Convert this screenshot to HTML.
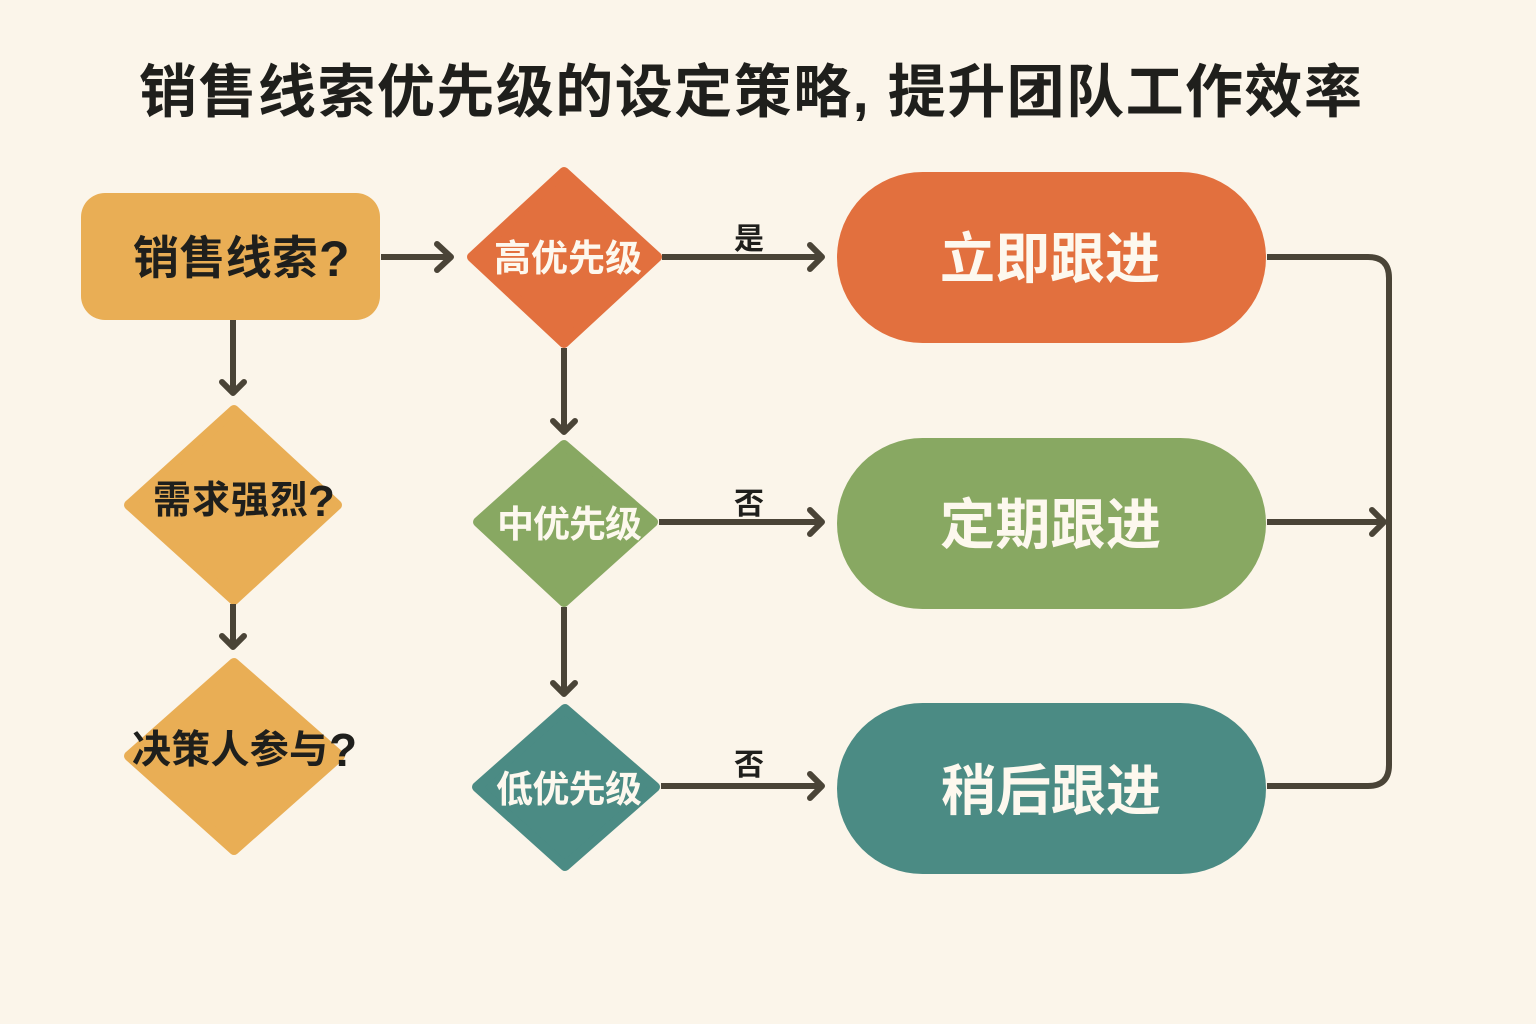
<!DOCTYPE html>
<html lang="zh"><head><meta charset="utf-8"><title>销售线索优先级的设定策略</title>
<style>html,body{margin:0;padding:0;background:#fbf5ea}svg{display:block}text{font-family:"Liberation Sans","Noto Sans CJK SC",sans-serif;font-weight:700}</style></head>
<body>
<svg width="1536" height="1024" viewBox="0 0 1536 1024" xmlns="http://www.w3.org/2000/svg">
<rect width="1536" height="1024" fill="#fbf5ea"/>
<text x="139" y="112" font-size="58" fill="#1f1f1c" textLength="1223" lengthAdjust="spacing">销售线索优先级的设定策略, 提升团队工作效率</text>

<g stroke-linejoin="round" stroke-width="10">
<rect x="81" y="193" width="299" height="127" rx="24" fill="#e9ae55"/>
<polygon points="234,410 337,505 234,600 129,505" fill="#e9ae55" stroke="#e9ae55"/>
<polygon points="234,663 340,756 234,850 129,756" fill="#e9ae55" stroke="#e9ae55"/>
<polygon points="564,172 657,257 564,343 472,257" fill="#e2703e" stroke="#e2703e"/>
<polygon points="564,445 653,522 564,602 478,522" fill="#88a862" stroke="#88a862"/>
<polygon points="565,709 655,787 565,866 477,787" fill="#4b8b84" stroke="#4b8b84"/>
</g>
<rect x="837" y="172" width="429" height="171" rx="85.5" fill="#e2703e"/>
<rect x="837" y="438" width="429" height="171" rx="85.5" fill="#88a862"/>
<rect x="837" y="703" width="429" height="171" rx="85.5" fill="#4b8b84"/>

<g fill="none" stroke="#4a4437" stroke-width="6" stroke-linejoin="round">
<path d="M381 257H450"/>
<path d="M233 320V392"/>
<path d="M233 604V646"/>
<path d="M564 348V430"/>
<path d="M564 607V692"/>
<path d="M662 257H821"/>
<path d="M659 522H821"/>
<path d="M661 786H821"/>
<path d="M1267 257H1368Q1389 257 1389 278V765Q1389 786 1368 786H1267"/>
<path d="M1267 522H1383"/>
<g stroke-linecap="round">
<path d="M437 244L451 257L437 270"/>
<path d="M222 382L233 393L244 382"/>
<path d="M222 636L233 647L244 636"/>
<path d="M553 421L564 432L575 421"/>
<path d="M553 683L564 694L575 683"/>
<path d="M810 245L822 257L810 269"/>
<path d="M810 510L822 522L810 534"/>
<path d="M810 774L822 786L810 798"/>
<path d="M1372 510L1384 522L1372 534"/>
</g>
</g>

<g fill="#1f1f1c">
<text x="133" y="274" font-size="46" textLength="185" lengthAdjust="spacing">销售线索</text>
<text x="319" y="276" font-size="50">?</text>
<text x="153" y="513" font-size="38" textLength="155" lengthAdjust="spacing">需求强烈</text>
<text x="308" y="516" font-size="44">?</text>
<text x="132" y="763" font-size="39" textLength="196" lengthAdjust="spacing">决策人参与</text>
<text x="329" y="766" font-size="46">?</text>
<text x="734" y="249" font-size="30">是</text>
<text x="734" y="514" font-size="30">否</text>
<text x="734" y="775" font-size="30">否</text>
</g>
<g fill="#fdf8ee">
<text x="494" y="271" font-size="37" textLength="148" lengthAdjust="spacing">高优先级</text>
<text x="497" y="537" font-size="37" textLength="145" lengthAdjust="spacing">中优先级</text>
<text x="496" y="802" font-size="37" textLength="146" lengthAdjust="spacing">低优先级</text>
<text x="940" y="278" font-size="55" textLength="220" lengthAdjust="spacing">立即跟进</text>
<text x="940" y="544" font-size="55" textLength="221" lengthAdjust="spacing">定期跟进</text>
<text x="941" y="810" font-size="55" textLength="220" lengthAdjust="spacing">稍后跟进</text>
</g>
</svg>
</body></html>
